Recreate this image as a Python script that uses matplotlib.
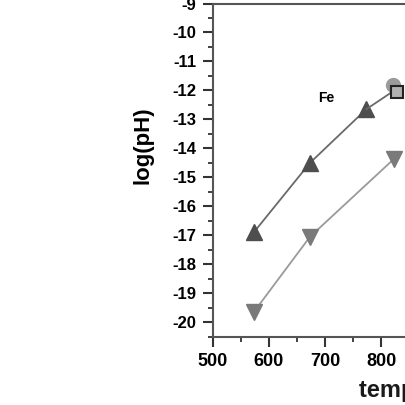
import matplotlib
matplotlib.use("Agg")
import matplotlib.pyplot as plt
from matplotlib.ticker import MultipleLocator

plt.rcParams['font.family'] = ['Liberation Sans', 'DejaVu Sans']
plt.rcParams['font.weight'] = 'bold'
plt.rcParams['axes.unicode_minus'] = False

# data
temp_up = [573, 673, 773, 823]
logp_up = [-16.9, -14.5, -12.65, -12.0]
temp_down = [573, 673, 823]
logp_down = [-19.65, -17.05, -14.35]
temp_circle = [821]
logp_circle = [-11.82]
temp_square = [828]
logp_square = [-12.05]
xticks = [500, 600, 700, 800]
yticks = [-20, -19, -18, -17, -16, -15, -14, -13, -12, -11, -10, -9]

fig = plt.figure(figsize=(4.05, 4.05), dpi=100)
ax = fig.add_axes([212.7 / 405, (405 - 336.7) / 405, 225 / 405, 333.2 / 405])

ax.plot(temp_up[:3], logp_up[:3], color='#6a6a6a', lw=1.3, marker='^', ms=11,
        mfc='#4e4e4e', mec='#4e4e4e')
ax.plot(temp_up[2:], logp_up[2:], color='#6a6a6a', lw=1.3)
ax.plot(temp_down, logp_down, color='#9a9a9a', lw=1.3, marker='v', ms=11,
        mfc='#7a7a7a', mec='#7a7a7a')
ax.plot(temp_circle, logp_circle, 'o', ms=10, mfc='#9a9a9a', mec='#9a9a9a')
ax.plot(temp_square, logp_square, 's', ms=8, mfc='#b0b0b0', mec='#222222', mew=1.5)

ax.set_xlim(500, 900)
ax.set_ylim(-20.5, -9)
ax.set_xticks(xticks)
ax.set_yticks(yticks)
ax.xaxis.set_minor_locator(MultipleLocator(50))
ax.yaxis.set_minor_locator(MultipleLocator(0.5))
ax.tick_params(axis='both', which='major', direction='out', length=7, width=1.5,
               color='#333333')
ax.tick_params(axis='both', which='minor', direction='out', length=3.5, width=1.3,
               color='#333333')
ax.tick_params(axis='x', labelsize=13, pad=5)
ax.tick_params(axis='y', labelsize=12, pad=5)
for s in ['left', 'bottom', 'top', 'right']:
    ax.spines[s].set_linewidth(1.5)
    ax.spines[s].set_color('#555555')

ax.set_ylabel('log(pH)', fontsize=16, fontweight='bold')
ax.yaxis.set_label_coords(-0.262, 0.575)
ax.text(701, -12.26, 'Fe', fontsize=10, fontweight='bold', ha='center', va='center')
fig.text(359 / 405, 1 - 391 / 405, 'temperature (K)', fontsize=17,
         fontweight='bold', ha='left', va='center', color='#1a1a1a')

fig.savefig('out.png', dpi=100)
